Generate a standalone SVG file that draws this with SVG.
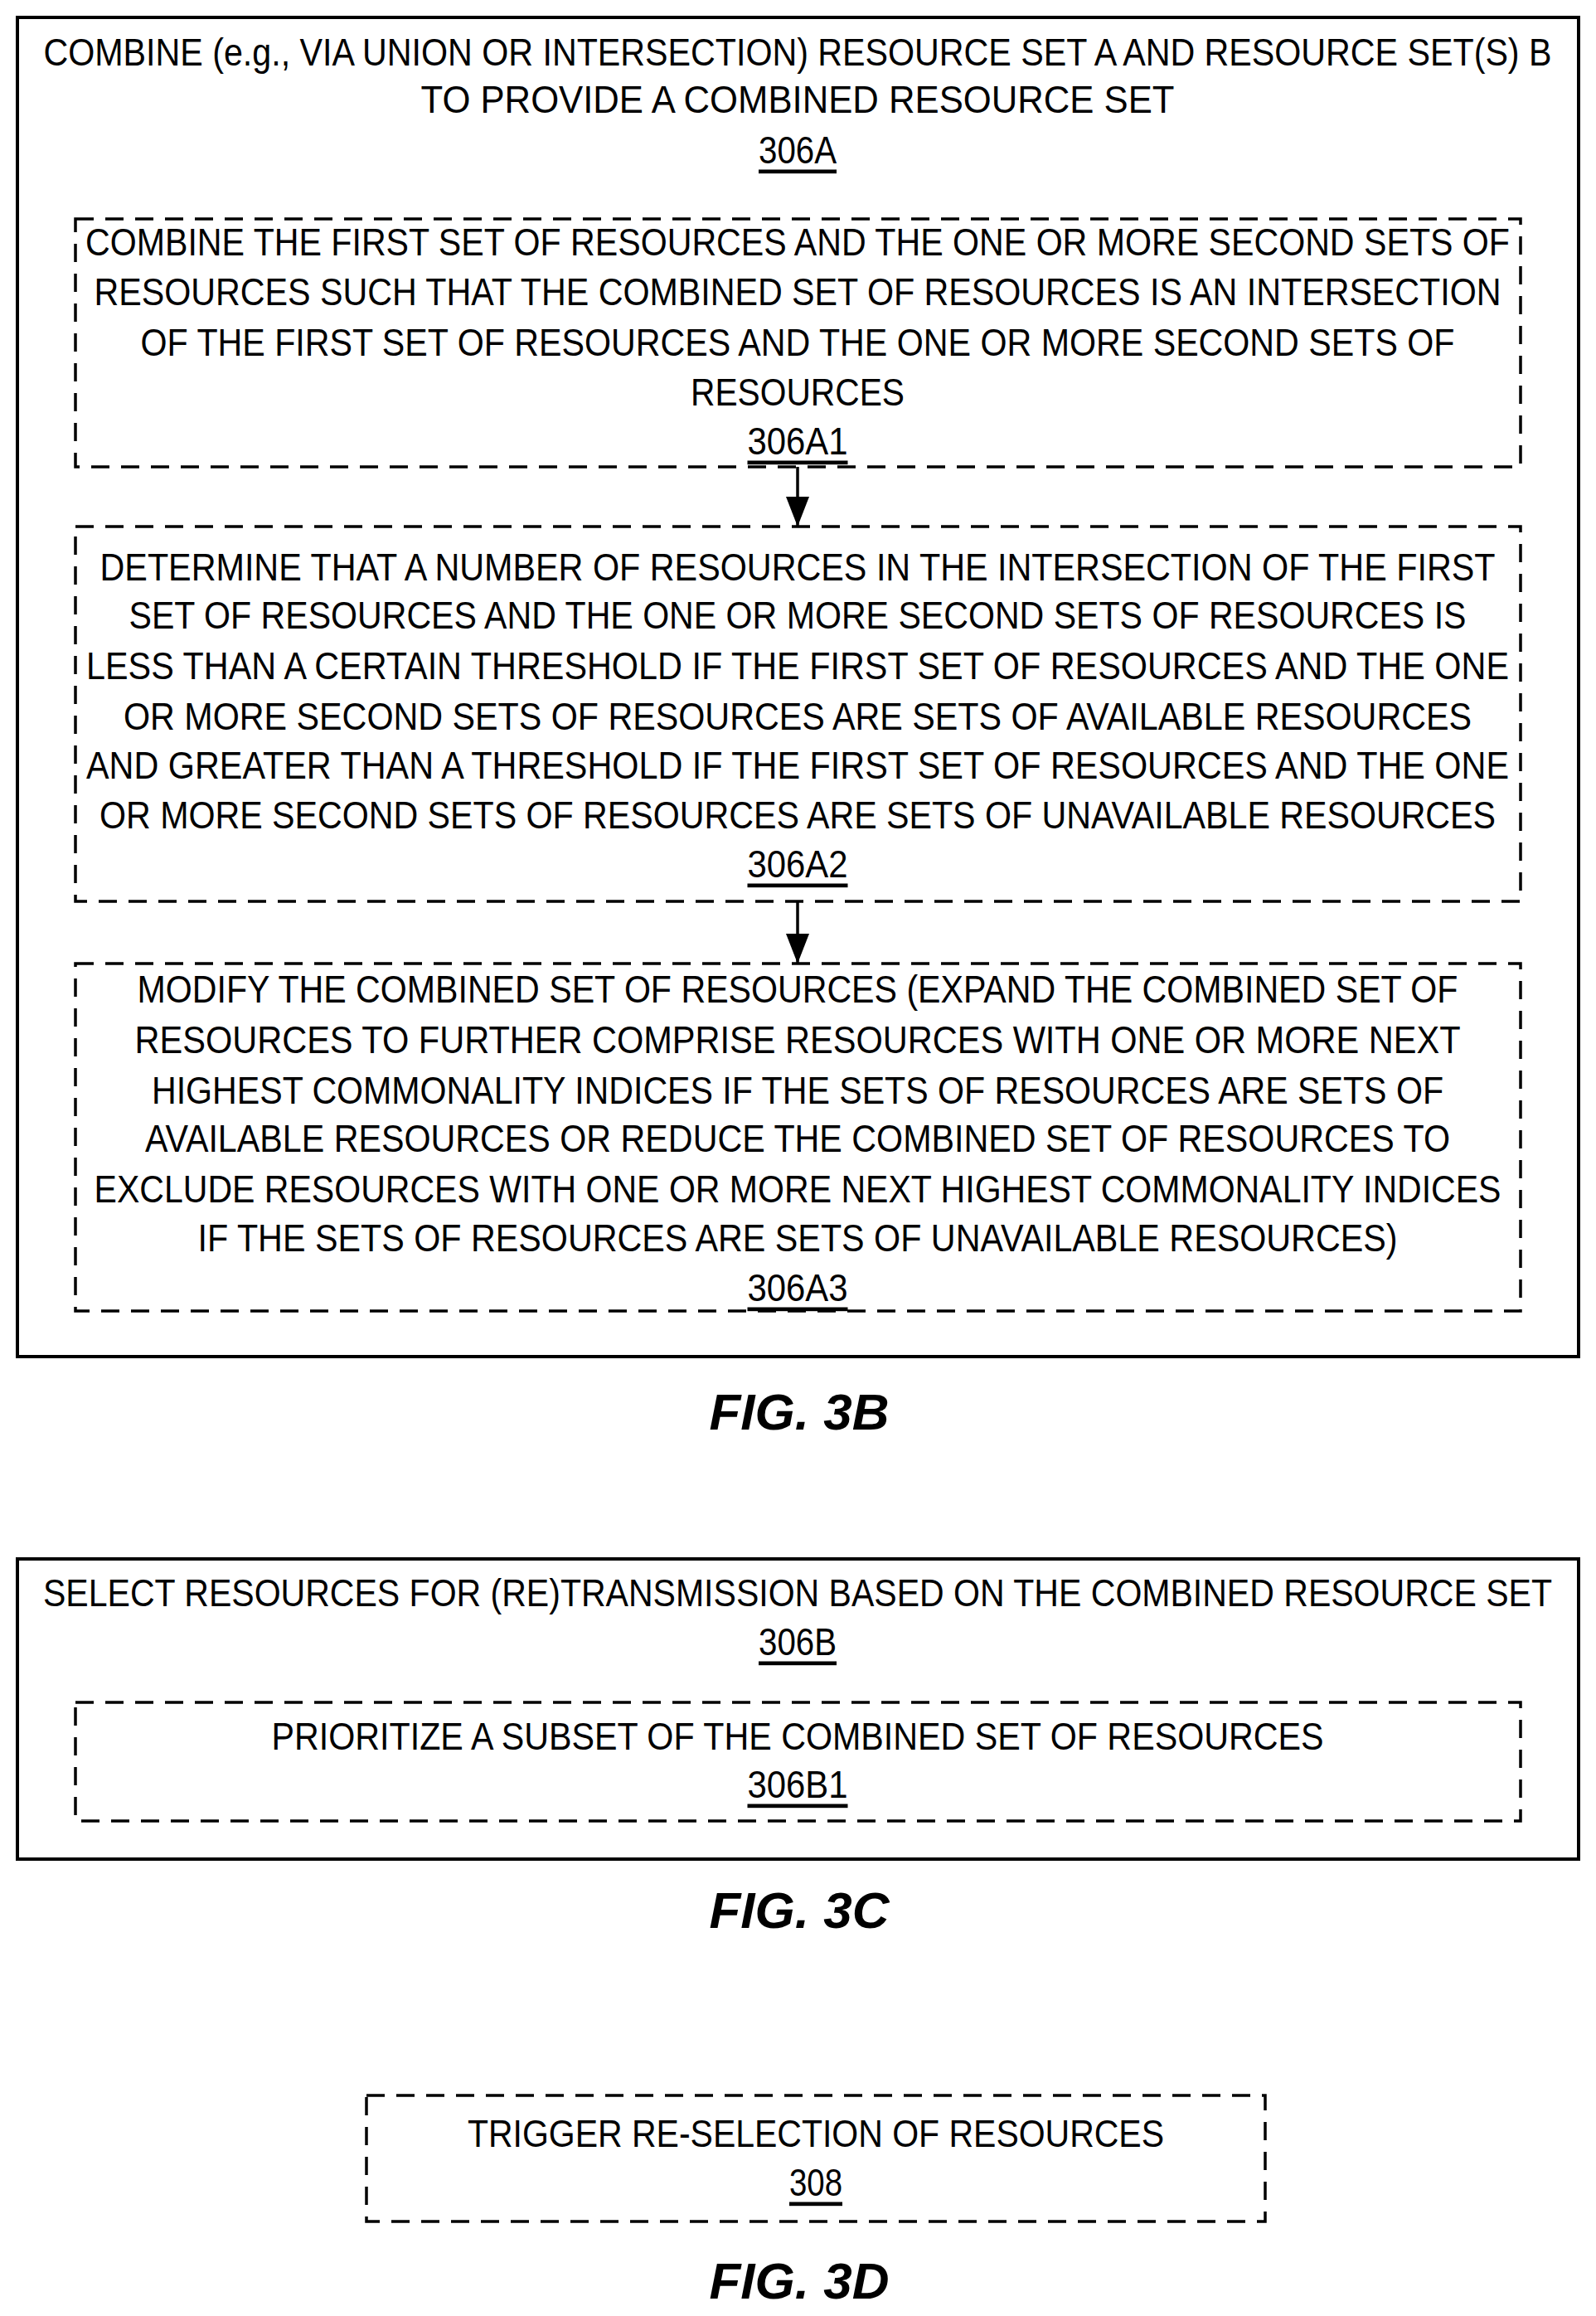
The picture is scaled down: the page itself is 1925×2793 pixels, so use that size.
<svg xmlns="http://www.w3.org/2000/svg" width="1925" height="2793" viewBox="0 0 1925 2793">
<style>
.t{font-family:"Liberation Sans",Arial,sans-serif;font-size:47px;fill:#000;text-anchor:middle;dominant-baseline:central}
.u{text-decoration:underline}
.f{font-family:"Liberation Sans",Arial,sans-serif;font-size:62px;font-weight:bold;font-style:italic;text-anchor:middle;dominant-baseline:central}
.o{fill:#fff;stroke:#000;stroke-width:4}
.d{fill:none;stroke:#000;stroke-width:3.5;stroke-dasharray:22 14}
.c{stroke:#000;stroke-width:3.5;fill:none}
</style>
<defs><marker id="ah" markerWidth="10" markerHeight="10" refX="10" refY="5" orient="auto" markerUnits="userSpaceOnUse" viewBox="0 0 10 10"><path d="M0,0L10,5L0,10z" fill="#000"/></marker>
<marker id="a" markerWidth="36" markerHeight="28" refX="36" refY="14" orient="auto" markerUnits="userSpaceOnUse"><path d="M0,0L36,14L0,28z" fill="#000"/></marker></defs>
<rect width="1925" height="2793" fill="#fff"/>
<g id="n306A"><rect class="o" x="21" y="21" width="1883" height="1615"/>
<text class="t" x="962" y="62" textLength="1819" lengthAdjust="spacingAndGlyphs">COMBINE (e.g., VIA UNION OR INTERSECTION) RESOURCE SET A AND RESOURCE SET(S) B</text>
<text class="t" x="962" y="119" textLength="909" lengthAdjust="spacingAndGlyphs">TO PROVIDE A COMBINED RESOURCE SET</text>
<text class="t u" x="962" y="180" textLength="94" lengthAdjust="spacingAndGlyphs">306A</text></g>
<g id="n306A1"><rect class="d" x="91" y="264" width="1743" height="299"/>
<text class="t" x="962" y="291" textLength="1718" lengthAdjust="spacingAndGlyphs">COMBINE THE FIRST SET OF RESOURCES AND THE ONE OR MORE SECOND SETS OF</text>
<text class="t" x="962" y="351" textLength="1697" lengthAdjust="spacingAndGlyphs">RESOURCES SUCH THAT THE COMBINED SET OF RESOURCES IS AN INTERSECTION</text>
<text class="t" x="962" y="412" textLength="1585" lengthAdjust="spacingAndGlyphs">OF THE FIRST SET OF RESOURCES AND THE ONE OR MORE SECOND SETS OF</text>
<text class="t" x="962" y="472" textLength="258" lengthAdjust="spacingAndGlyphs">RESOURCES</text>
<text class="t u" x="962" y="531" textLength="121" lengthAdjust="spacingAndGlyphs">306A1</text></g>
<g id="n306A2"><rect class="d" x="91" y="635" width="1743" height="452"/>
<text class="t" x="962" y="683" textLength="1683" lengthAdjust="spacingAndGlyphs">DETERMINE THAT A NUMBER OF RESOURCES IN THE INTERSECTION OF THE FIRST</text>
<text class="t" x="962" y="741" textLength="1613" lengthAdjust="spacingAndGlyphs">SET OF RESOURCES AND THE ONE OR MORE SECOND SETS OF RESOURCES IS</text>
<text class="t" x="962" y="802" textLength="1716" lengthAdjust="spacingAndGlyphs">LESS THAN A CERTAIN THRESHOLD IF THE FIRST SET OF RESOURCES AND THE ONE</text>
<text class="t" x="962" y="863" textLength="1626" lengthAdjust="spacingAndGlyphs">OR MORE SECOND SETS OF RESOURCES ARE SETS OF AVAILABLE RESOURCES</text>
<text class="t" x="962" y="922" textLength="1716" lengthAdjust="spacingAndGlyphs">AND GREATER THAN A THRESHOLD IF THE FIRST SET OF RESOURCES AND THE ONE</text>
<text class="t" x="962" y="982" textLength="1684" lengthAdjust="spacingAndGlyphs">OR MORE SECOND SETS OF RESOURCES ARE SETS OF UNAVAILABLE RESOURCES</text>
<text class="t u" x="962" y="1041" textLength="121" lengthAdjust="spacingAndGlyphs">306A2</text></g>
<g id="n306A3"><rect class="d" x="91" y="1162" width="1743" height="419"/>
<text class="t" x="962" y="1192" textLength="1593" lengthAdjust="spacingAndGlyphs">MODIFY THE COMBINED SET OF RESOURCES (EXPAND THE COMBINED SET OF</text>
<text class="t" x="962" y="1253" textLength="1599" lengthAdjust="spacingAndGlyphs">RESOURCES TO FURTHER COMPRISE RESOURCES WITH ONE OR MORE NEXT</text>
<text class="t" x="962" y="1314" textLength="1558" lengthAdjust="spacingAndGlyphs">HIGHEST COMMONALITY INDICES IF THE SETS OF RESOURCES ARE SETS OF</text>
<text class="t" x="962" y="1372" textLength="1574" lengthAdjust="spacingAndGlyphs">AVAILABLE RESOURCES OR REDUCE THE COMBINED SET OF RESOURCES TO</text>
<text class="t" x="962" y="1433" textLength="1697" lengthAdjust="spacingAndGlyphs">EXCLUDE RESOURCES WITH ONE OR MORE NEXT HIGHEST COMMONALITY INDICES</text>
<text class="t" x="962" y="1492" textLength="1447" lengthAdjust="spacingAndGlyphs">IF THE SETS OF RESOURCES ARE SETS OF UNAVAILABLE RESOURCES)</text>
<text class="t u" x="962" y="1552" textLength="121" lengthAdjust="spacingAndGlyphs">306A3</text></g>
<g id="connectors">
<line class="c" x1="962" y1="563" x2="962" y2="635" marker-end="url(#a)"/>
<line class="c" x1="962" y1="1087" x2="962" y2="1162" marker-end="url(#a)"/>
</g>
<text class="f" x="964" y="1702">FIG. 3B</text>
<g id="n306B"><rect class="o" x="21" y="1880" width="1883" height="362"/>
<text class="t" x="962" y="1920" textLength="1820" lengthAdjust="spacingAndGlyphs">SELECT RESOURCES FOR (RE)TRANSMISSION BASED ON THE COMBINED RESOURCE SET</text>
<text class="t u" x="962" y="1979" textLength="94" lengthAdjust="spacingAndGlyphs">306B</text></g>
<g id="n306B1"><rect class="d" x="91" y="2053" width="1743" height="143"/>
<text class="t" x="962" y="2093" textLength="1269" lengthAdjust="spacingAndGlyphs">PRIORITIZE A SUBSET OF THE COMBINED SET OF RESOURCES</text>
<text class="t u" x="962" y="2151" textLength="121" lengthAdjust="spacingAndGlyphs">306B1</text></g>
<text class="f" x="964" y="2303">FIG. 3C</text>
<g id="n308"><rect class="d" x="442" y="2527" width="1084" height="152"/>
<text class="t" x="984" y="2572" textLength="840" lengthAdjust="spacingAndGlyphs">TRIGGER RE-SELECTION OF RESOURCES</text>
<text class="t u" x="984" y="2631" textLength="64" lengthAdjust="spacingAndGlyphs">308</text></g>
<text class="f" x="964" y="2750">FIG. 3D</text>
</svg>
